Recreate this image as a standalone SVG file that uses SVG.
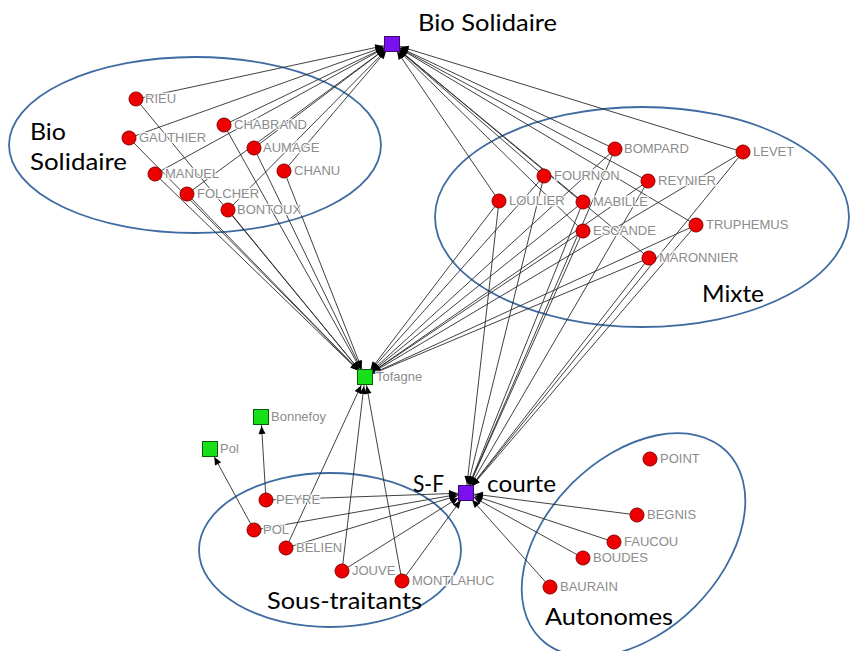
<svg xmlns="http://www.w3.org/2000/svg" width="850" height="651" viewBox="0 0 850 651">
  <style>
    .edge { stroke: #2b2b2b; stroke-width: 0.9; fill: none; }
    .arr { marker-end: url(#arrow); }
    .actor { fill: #ee0000; stroke: #8a0000; stroke-width: 1; }
    .purple { fill: #7a10f0; stroke: #3a0a70; stroke-width: 1; }
    .green { fill: #18e018; stroke: #0a5a0a; stroke-width: 1; }
    .lbl { font-family: "Liberation Sans", Arial, sans-serif; font-size: 13px; fill: #8c8c8c;
           stroke: #ffffff; stroke-width: 2.5; stroke-opacity: 0.85; paint-order: stroke; }
    .group { fill: none; stroke: #3e6ba1; stroke-width: 1.8; }
    .title { font-family: Lato, "Open Sans", sans-serif; font-size: 23px; fill: #000000; }
  </style>
  <defs>
    <marker id="arrow" markerUnits="userSpaceOnUse" markerWidth="20" markerHeight="8"
            refX="17" refY="3.5" orient="auto" overflow="visible">
      <path d="M0,0 L8,3.5 L0,7 z" fill="#000000"/>
    </marker>
  </defs>

  <!-- group outlines -->
  <g id="outlines">
    <ellipse class="group" cx="195" cy="145" rx="186" ry="88"/>
    <ellipse class="group" cx="642" cy="217" rx="207" ry="110"/>
    <ellipse class="group" cx="330" cy="550" rx="131" ry="77"/>
    <ellipse class="group" cx="633.5" cy="545" rx="132" ry="87" transform="rotate(-45 633.5 545)"/>
  </g>

  <!-- connectors -->
  <g id="connectors">
    <!-- Bio Solidaire members to Bio Solidaire and Tofagne -->
    <line class="edge arr" x1="136" y1="99" x2="392" y2="44"/>
    <line class="edge arr" x1="136" y1="99" x2="365" y2="377"/>
    <line class="edge arr" x1="129" y1="138" x2="392" y2="44"/>
    <line class="edge arr" x1="129" y1="138" x2="365" y2="377"/>
    <line class="edge arr" x1="224" y1="125" x2="392" y2="44"/>
    <line class="edge arr" x1="224" y1="125" x2="365" y2="377"/>
    <line class="edge arr" x1="254" y1="148" x2="392" y2="44"/>
    <line class="edge arr" x1="254" y1="148" x2="365" y2="377"/>
    <line class="edge arr" x1="284" y1="171" x2="392" y2="44"/>
    <line class="edge arr" x1="284" y1="171" x2="365" y2="377"/>
    <line class="edge arr" x1="155" y1="174" x2="392" y2="44"/>
    <line class="edge arr" x1="155" y1="174" x2="365" y2="377"/>
    <line class="edge arr" x1="187" y1="194" x2="392" y2="44"/>
    <line class="edge arr" x1="187" y1="194" x2="365" y2="377"/>
    <line class="edge arr" x1="228" y1="210" x2="392" y2="44"/>
    <line class="edge arr" x1="228" y1="210" x2="365" y2="377"/>

    <!-- Mixte members to Bio Solidaire, Tofagne and S-F courte -->
    <line class="edge arr" x1="615" y1="149" x2="392" y2="44"/>
    <line class="edge arr" x1="615" y1="149" x2="365" y2="377"/>
    <line class="edge arr" x1="615" y1="149" x2="466" y2="493"/>
    <line class="edge arr" x1="743" y1="152" x2="392" y2="44"/>
    <line class="edge arr" x1="743" y1="152" x2="365" y2="377"/>
    <line class="edge arr" x1="743" y1="152" x2="466" y2="493"/>
    <line class="edge arr" x1="544" y1="176" x2="392" y2="44"/>
    <line class="edge arr" x1="544" y1="176" x2="365" y2="377"/>
    <line class="edge arr" x1="544" y1="176" x2="466" y2="493"/>
    <line class="edge arr" x1="648" y1="181" x2="392" y2="44"/>
    <line class="edge arr" x1="648" y1="181" x2="365" y2="377"/>
    <line class="edge arr" x1="648" y1="181" x2="466" y2="493"/>
    <line class="edge arr" x1="499" y1="201" x2="392" y2="44"/>
    <line class="edge arr" x1="499" y1="201" x2="365" y2="377"/>
    <line class="edge arr" x1="499" y1="201" x2="466" y2="493"/>
    <line class="edge arr" x1="583" y1="202" x2="392" y2="44"/>
    <line class="edge arr" x1="583" y1="202" x2="365" y2="377"/>
    <line class="edge arr" x1="583" y1="202" x2="466" y2="493"/>
    <line class="edge arr" x1="583" y1="231" x2="392" y2="44"/>
    <line class="edge arr" x1="583" y1="231" x2="365" y2="377"/>
    <line class="edge arr" x1="583" y1="231" x2="466" y2="493"/>
    <line class="edge arr" x1="696" y1="225" x2="392" y2="44"/>
    <line class="edge arr" x1="696" y1="225" x2="365" y2="377"/>
    <line class="edge arr" x1="696" y1="225" x2="466" y2="493"/>
    <line class="edge arr" x1="649" y1="258" x2="392" y2="44"/>
    <line class="edge arr" x1="649" y1="258" x2="365" y2="377"/>
    <line class="edge arr" x1="649" y1="258" x2="466" y2="493"/>

    <!-- Sous-traitants -->
    <line class="edge arr" x1="266" y1="500" x2="261" y2="417"/>
    <line class="edge arr" x1="266" y1="500" x2="466" y2="493"/>
    <line class="edge arr" x1="254" y1="530" x2="210" y2="449"/>
    <line class="edge arr" x1="254" y1="530" x2="466" y2="493"/>
    <line class="edge arr" x1="286" y1="548" x2="365" y2="377"/>
    <line class="edge arr" x1="286" y1="548" x2="466" y2="493"/>
    <line class="edge arr" x1="342" y1="571" x2="365" y2="377"/>
    <line class="edge arr" x1="342" y1="571" x2="466" y2="493"/>
    <line class="edge arr" x1="402" y1="581" x2="365" y2="377"/>
    <line class="edge arr" x1="402" y1="581" x2="466" y2="493"/>

    <!-- Autonomes -->
    <line class="edge arr" x1="637" y1="515" x2="466" y2="493"/>
    <line class="edge arr" x1="614" y1="542" x2="466" y2="493"/>
    <line class="edge arr" x1="583" y1="558" x2="466" y2="493"/>
    <line class="edge arr" x1="550" y1="587" x2="466" y2="493"/>
  </g>

  <!-- hub nodes -->
  <g id="bio-solidaire"><rect class="purple" x="384.5" y="36.5" width="15" height="15"/></g>
  <g id="sf-courte"><rect class="purple" x="458.5" y="485.5" width="15" height="15"/></g>
  <g id="tofagne"><rect class="green" x="357.5" y="369.5" width="15" height="15"/><text class="lbl" x="376" y="381">Tofagne</text></g>
  <g id="bonnefoy"><rect class="green" x="253.5" y="409.5" width="15" height="15"/><text class="lbl" x="271" y="421">Bonnefoy</text></g>
  <g id="pol-sq"><rect class="green" x="202.5" y="441.5" width="15" height="15"/><text class="lbl" x="220" y="453">Pol</text></g>

  <!-- Bio Solidaire members -->
  <g id="rieu"><circle class="actor" cx="136" cy="99" r="7"/><text class="lbl" x="145" y="103">RIEU</text></g>
  <g id="gauthier"><circle class="actor" cx="129" cy="138" r="7"/><text class="lbl" x="139" y="142">GAUTHIER</text></g>
  <g id="chabrand"><circle class="actor" cx="224" cy="125" r="7"/><text class="lbl" x="234" y="129">CHABRAND</text></g>
  <g id="aumage"><circle class="actor" cx="254" cy="148" r="7"/><text class="lbl" x="263" y="152">AUMAGE</text></g>
  <g id="chanu"><circle class="actor" cx="284" cy="171" r="7"/><text class="lbl" x="294" y="175">CHANU</text></g>
  <g id="manuel"><circle class="actor" cx="155" cy="174" r="7"/><text class="lbl" x="165" y="178">MANUEL</text></g>
  <g id="folcher"><circle class="actor" cx="187" cy="194" r="7"/><text class="lbl" x="197" y="198">FOLCHER</text></g>
  <g id="bontoux"><circle class="actor" cx="228" cy="210" r="7"/><text class="lbl" x="237" y="214">BONTOUX</text></g>

  <!-- Mixte members -->
  <g id="bompard"><circle class="actor" cx="615" cy="149" r="7"/><text class="lbl" x="624" y="153">BOMPARD</text></g>
  <g id="levet"><circle class="actor" cx="743" cy="152" r="7"/><text class="lbl" x="753" y="156">LEVET</text></g>
  <g id="fournon"><circle class="actor" cx="544" cy="176" r="7"/><text class="lbl" x="554" y="180">FOURNON</text></g>
  <g id="reynier"><circle class="actor" cx="648" cy="181" r="7"/><text class="lbl" x="658" y="185">REYNIER</text></g>
  <g id="loulier"><circle class="actor" cx="499" cy="201" r="7"/><text class="lbl" x="509" y="205">LOULIER</text></g>
  <g id="mabille"><circle class="actor" cx="583" cy="202" r="7"/><text class="lbl" x="593" y="206">MABILLE</text></g>
  <g id="escande"><circle class="actor" cx="583" cy="231" r="7"/><text class="lbl" x="593" y="235">ESCANDE</text></g>
  <g id="truphemus"><circle class="actor" cx="696" cy="225" r="7"/><text class="lbl" x="706" y="229">TRUPHEMUS</text></g>
  <g id="maronnier"><circle class="actor" cx="649" cy="258" r="7"/><text class="lbl" x="659" y="262">MARONNIER</text></g>

  <!-- Sous-traitants members -->
  <g id="peyre"><circle class="actor" cx="266" cy="500" r="7"/><text class="lbl" x="276" y="504">PEYRE</text></g>
  <g id="pol"><circle class="actor" cx="254" cy="530" r="7"/><text class="lbl" x="263" y="534">POL</text></g>
  <g id="belien"><circle class="actor" cx="286" cy="548" r="7"/><text class="lbl" x="296" y="552">BELIEN</text></g>
  <g id="jouve"><circle class="actor" cx="342" cy="571" r="7"/><text class="lbl" x="352" y="575">JOUVE</text></g>
  <g id="montlahuc"><circle class="actor" cx="402" cy="581" r="7"/><text class="lbl" x="412" y="585">MONTLAHUC</text></g>

  <!-- Autonomes members -->
  <g id="point"><circle class="actor" cx="650" cy="459" r="7"/><text class="lbl" x="660" y="463">POINT</text></g>
  <g id="begnis"><circle class="actor" cx="637" cy="515" r="7"/><text class="lbl" x="647" y="519">BEGNIS</text></g>
  <g id="faucou"><circle class="actor" cx="614" cy="542" r="7"/><text class="lbl" x="624" y="546">FAUCOU</text></g>
  <g id="boudes"><circle class="actor" cx="583" cy="558" r="7"/><text class="lbl" x="593" y="562">BOUDES</text></g>
  <g id="baurain"><circle class="actor" cx="550" cy="587" r="7"/><text class="lbl" x="560" y="591">BAURAIN</text></g>

  <!-- group titles -->
  <g id="titles">
    <text class="title" x="418" y="31" textLength="139" lengthAdjust="spacingAndGlyphs">Bio Solidaire</text>
    <text class="title" x="30" y="140" textLength="36" lengthAdjust="spacingAndGlyphs">Bio</text>
    <text class="title" x="30" y="170" textLength="97" lengthAdjust="spacingAndGlyphs">Solidaire</text>
    <text class="title" x="702" y="302" textLength="62" lengthAdjust="spacingAndGlyphs">Mixte</text>
    <text class="title" x="413" y="492" textLength="31" lengthAdjust="spacingAndGlyphs">S-F</text>
    <text class="title" x="487" y="492" textLength="69" lengthAdjust="spacingAndGlyphs">courte</text>
    <text class="title" x="267" y="609" textLength="155" lengthAdjust="spacingAndGlyphs">Sous-traitants</text>
    <text class="title" x="545" y="625" textLength="128" lengthAdjust="spacingAndGlyphs">Autonomes</text>
  </g>
</svg>
